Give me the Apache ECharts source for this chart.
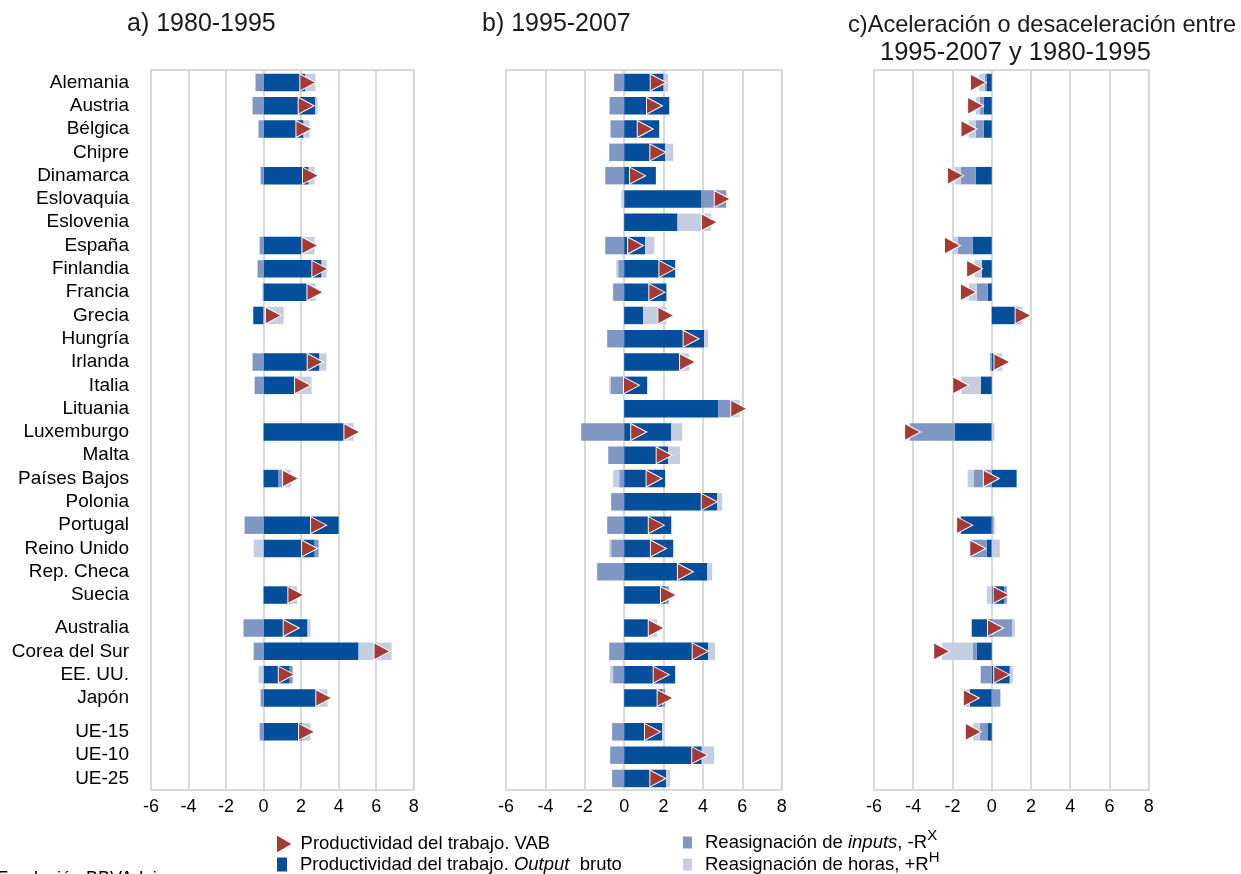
<!DOCTYPE html>
<html>
<head>
<meta charset="utf-8">
<script src="https://cdn.jsdelivr.net/npm/echarts@6/dist/echarts.min.js"></script>
<style>
  html, body { margin: 0; padding: 0; background: #fff; }
  #chart { width: 1241px; height: 874px; }
</style>
</head>
<body>
<div id="chart"></div>
<script>
// ---- Categories (three blocks of rows) ----
const groupEU = ['Alemania', 'Austria', 'Bélgica', 'Chipre', 'Dinamarca', 'Eslovaquia', 'Eslovenia',
  'España', 'Finlandia', 'Francia', 'Grecia', 'Hungría', 'Irlanda', 'Italia', 'Lituania', 'Luxemburgo',
  'Malta', 'Países Bajos', 'Polonia', 'Portugal', 'Reino Unido', 'Rep. Checa', 'Suecia'];
const groupOther = ['Australia', 'Corea del Sur', 'EE. UU.', 'Japón'];
const groupAgg = ['UE-15', 'UE-10', 'UE-25'];

// ---- Axis ticks ----
const xMin = -6, xMax = 8, xStep = 2;

// ---- Panel titles ----
const titleA = 'a) 1980-1995';
const titleB = 'b) 1995-2007';
const titleC1 = 'c)Aceleración o desaceleración entre';
const titleC2 = '1995-2007 y 1980-1995';

// ---- a) 1980-1995 (rows in the order of the three blocks above) ----
const outputA = [2.22, 2.74, 2.13, null, 2.40, null, null, 2.04, 3.09, 2.31, -0.55, null, 2.98, 1.62, null, 4.28, null, 0.80, null, 4.00, 2.72, null, 1.42,
  2.34, 5.06, 1.39, 2.81,
  2.06, null, null];
const inputsA = [-0.43, -0.59, -0.27, null, -0.16, null, null, -0.21, -0.32, -0.05, 0, null, -0.59, -0.48, null, 0, null, 0.23, null, -1.00, 0.21, null, 0.05,
  -1.07, -0.53, 0.16, -0.16,
  -0.21, null, null];
const hoursA = [0.55, 0.14, 0.32, null, 0.32, null, null, 0.68, 0.27, 0.46, 1.07, null, 0.37, 0.94, null, 0.52, null, 0.44, null, -0.04, -0.53, null, 0.33,
  0.16, 1.76, -0.27, 0.60,
  0.44, null, null];
const vabA = [2.36, 2.27, 2.15, null, 2.50, null, null, 2.47, 3.00, 2.74, 0.52, null, 2.75, 2.08, null, 4.71, null, 1.44, null, 2.93, 2.45, null, 1.72,
  1.47, 6.31, 1.21, 3.21,
  2.29, null, null];

// ---- b) 1995-2007 ----
const outputB = [2.00, 2.29, 1.78, 2.08, 1.61, 3.93, 2.71, 1.07, 2.59, 2.15, 0.96, 4.06, 2.86, 1.17, 4.77, 2.39, 2.23, 2.08, 4.72, 2.39, 2.49, 4.22, 2.07,
  1.30, 4.27, 2.59, 1.92,
  1.93, 3.94, 2.13];
const inputsB = [-0.51, -0.74, -0.69, -0.76, -0.96, 1.25, 0, -0.96, -0.30, -0.56, 0, -0.86, 0, -0.68, 0.66, -2.18, -0.81, -0.25, -0.66, -0.86, -0.66, -1.37, 0.20,
  0, -0.76, -0.56, 0.17,
  -0.61, -0.71, -0.61];
const hoursB = [0.23, -0.03, -0.02, 0.41, 0, -0.15, 1.71, 0.46, -0.10, 0.03, 1.18, 0.20, 0.44, -0.08, 0.44, 0.56, 0.61, -0.31, 0.26, 0.05, -0.10, 0.25, 0,
  0.38, 0.35, -0.15, 0,
  0.07, 0.63, 0.20];
const vabB = [1.73, 1.54, 1.07, 1.71, 0.68, 4.98, 4.33, 0.58, 2.17, 1.66, 2.12, 3.40, 3.22, 0.37, 5.82, 0.74, 2.03, 1.52, 4.32, 1.63, 1.74, 3.11, 2.25,
  1.63, 3.86, 1.88, 2.08,
  1.44, 3.84, 1.71];

// ---- c) change between 1995-2007 and 1980-1995 ----
const outputC = [-0.27, -0.41, -0.41, null, -0.82, null, null, -0.97, -0.51, -0.20, 1.30, null, 0.12, -0.56, null, -1.89, null, 1.27, null, -1.58, -0.25, null, 0.63,
  -1.02, -0.76, 0.92, -1.12,
  -0.19, null, null];
const inputsC = [-0.08, -0.20, -0.41, null, -0.76, null, null, -0.76, 0, -0.56, 0.12, null, -0.08, 0, null, -2.29, null, -0.92, null, 0.10, -0.87, null, 0.14,
  1.04, -0.20, -0.56, 0.44,
  -0.42, null, null];
const hoursC = [-0.31, -0.20, -0.36, null, -0.31, null, null, -0.25, -0.36, -0.41, 0.15, null, 0.42, -1.00, null, 0.14, null, -0.31, null, 0.05, 0.41, null, -0.25,
  0.14, -1.58, 0.15, -0.35,
  -0.34, null, null];
const vabC = [-0.68, -0.82, -1.16, null, -1.85, null, null, -2.00, -0.87, -1.19, 1.60, null, 0.52, -1.58, null, -4.03, null, -0.02, null, -1.38, -0.71, null, 0.48,
  0.19, -2.55, 0.51, -1.04,
  -0.94, null, null];

// ---- Series names and colours ----
const NAME_VAB = 'Productividad del trabajo. VAB';
const NAME_OUT = 'Productividad del trabajo. Output bruto';
const NAME_INP = 'Reasignación de inputs, -RX';
const NAME_HOR = 'Reasignación de horas, +RH';
const C_VAB = '#a43a33';
const C_OUT = '#034f9b';
const C_INP = '#7f97c2';
const C_HOR = '#c5cde0';
const C_GRID = '#d9d9d9';
const FONT = '"Liberation Sans", Arial, sans-serif';
const TRIANGLE = 'path://M0,0L12,7L0,14Z';

// ---- Layout ----
const panels = [
  { left: 151, width: 262.7, out: outputA, inp: inputsA, hor: hoursA, vab: vabA, labels: true },
  { left: 506, width: 275.7, out: outputB, inp: inputsB, hor: hoursB, vab: vabB, labels: false },
  { left: 874, width: 274.7, out: outputC, inp: inputsC, hor: hoursC, vab: vabC, labels: false }
];
const frameBox = { top: 70, height: 720 };
const blocks = [
  { cats: groupEU, top: 70.8, height: 535.9 },
  { cats: groupOther, top: 616.4, height: 93.2 },
  { cats: groupAgg, top: 720.2, height: 69.9 }
];

const grid = [], xAxis = [], yAxis = [], series = [];

panels.forEach((p) => {
  // frame grid: border, vertical grid lines and tick labels
  const fi = grid.length;
  grid.push({ left: p.left, width: p.width, top: frameBox.top, height: frameBox.height,
    show: true, borderColor: C_GRID, borderWidth: 2, backgroundColor: 'transparent',
    containLabel: false, outerBoundsMode: 'none' });
  xAxis.push({ gridIndex: fi, type: 'value', min: xMin, max: xMax, interval: xStep,
    axisLine: { show: false }, axisTick: { show: false },
    axisLabel: { fontSize: 18, color: '#000', margin: 8, fontFamily: FONT },
    splitLine: { show: true, lineStyle: { color: C_GRID, width: 2 } } });
  yAxis.push({ gridIndex: fi, type: 'value', show: false, min: 0, max: 1 });

  // one grid per block of rows
  let offset = 0;
  blocks.forEach((b) => {
    const gi = grid.length;
    const n = b.cats.length;
    grid.push({ left: p.left, width: p.width, top: b.top, height: b.height,
      containLabel: false, outerBoundsMode: 'none' });
    xAxis.push({ gridIndex: gi, type: 'value', min: xMin, max: xMax, interval: xStep, show: false });
    yAxis.push({ gridIndex: gi, type: 'category', data: b.cats, inverse: true,
      axisLine: { show: false }, axisTick: { show: false }, splitLine: { show: false },
      axisLabel: { show: p.labels, interval: 0, fontSize: 19, color: '#000', margin: 22, fontFamily: FONT } });

    const pick = (arr) => arr.slice(offset, offset + n).map(v => (v === null ? '-' : v));
    const stackId = 'p' + gi;
    const bar = (name, arr, color) => ({
      name, type: 'bar', xAxisIndex: gi, yAxisIndex: gi, stack: stackId,
      barWidth: '75%', data: pick(arr), itemStyle: { color }, emphasis: { disabled: true }
    });
    series.push(bar(NAME_OUT, p.out, C_OUT));
    series.push(bar(NAME_INP, p.inp, C_INP));
    series.push(bar(NAME_HOR, p.hor, C_HOR));

    const pts = [];
    p.vab.slice(offset, offset + n).forEach((v, i) => { if (v !== null) pts.push([v, b.cats[i]]); });
    series.push({ name: NAME_VAB, type: 'scatter', xAxisIndex: gi, yAxisIndex: gi, z: 5,
      symbol: TRIANGLE, symbolSize: [16, 17], data: pts,
      itemStyle: { color: C_VAB, borderColor: '#fff', borderWidth: 1, opacity: 1 },
      emphasis: { disabled: true } });
    offset += n;
  });
});

const legendText = {
  fontSize: 18.5, color: '#000', fontFamily: FONT,
  rich: {
    i: { fontSize: 18.5, color: '#000', fontFamily: FONT, fontStyle: 'italic' },
    s: { fontSize: 15, color: '#000', fontFamily: FONT, padding: [0, 0, 14, 0] }
  }
};
const legendLabels = {};
legendLabels[NAME_VAB] = 'Productividad del trabajo. VAB';
legendLabels[NAME_OUT] = 'Productividad del trabajo. {i|Output}  bruto';
legendLabels[NAME_INP] = 'Reasignación de {i|inputs}, -R{s|X}';
legendLabels[NAME_HOR] = 'Reasignación de horas, +R{s|H}';

const mkLegend = (name, icon, w, h, left, top, padLeft) => ({
  left, top, padding: 0, selectedMode: false,
  data: [{ name, icon }], itemWidth: w, itemHeight: h,
  formatter: (n) => legendLabels[n],
  textStyle: Object.assign({}, legendText, { padding: [0, 0, 0, padLeft] })
});

const titleStyle = { fontSize: 25, fontWeight: 'normal', color: '#1a1a1a', fontFamily: FONT };
const titleStyleC1 = Object.assign({}, titleStyle, { fontSize: 23.6 });
const titleStyleC2 = Object.assign({}, titleStyle, { fontSize: 25.5 });

const option = {
  animation: false,
  backgroundColor: '#fff',
  title: [
    { text: titleA, left: 127, top: 12, padding: 0, textStyle: titleStyle },
    { text: titleB, left: 482, top: 12, padding: 0, textStyle: titleStyle },
    { text: titleC1, left: 848, top: 13, padding: 0, textStyle: titleStyleC1 },
    { text: titleC2, left: 880, top: 40, padding: 0, textStyle: titleStyleC2 }
  ],
  legend: [
    mkLegend(NAME_VAB, TRIANGLE, 18, 20, 275, 833, 2),
    mkLegend(NAME_OUT, 'rect', 10, 14, 277, 855, 8),
    mkLegend(NAME_INP, 'rect', 9, 12, 683, 828, 8),
    mkLegend(NAME_HOR, 'rect', 9, 12, 683, 850, 8)
  ],
  grid, xAxis, yAxis, series,
  graphic: [
    { type: 'text', left: -3, top: 870, silent: true,
      style: { text: 'Fundación BBVA-Ivie', fontSize: 18, fill: '#000', fontFamily: FONT } }
  ]
};

const chart = echarts.init(document.getElementById('chart'), null, { renderer: 'canvas' });
chart.setOption(option);
</script>
</body>
</html>
